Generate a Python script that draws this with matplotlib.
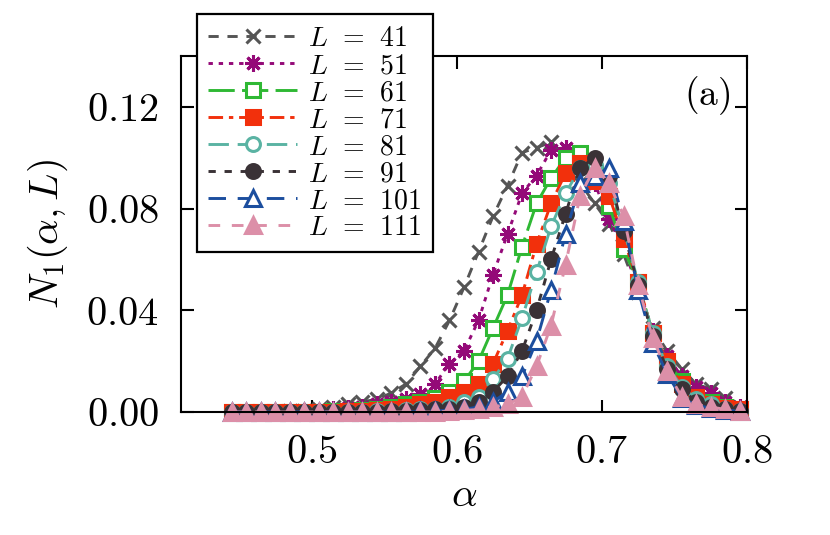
import matplotlib
matplotlib.use('Agg')
import matplotlib.pyplot as plt

plt.rcParams['mathtext.fontset'] = 'cm'
plt.rcParams['font.family'] = 'serif'
plt.rcParams['font.serif'] = ['DejaVu Serif']

# значения параметра alpha
alpha = [0.445, 0.455, 0.465, 0.475, 0.485, 0.495, 0.505, 0.515, 0.525, 0.535,
         0.545, 0.555, 0.565, 0.575, 0.585, 0.595, 0.605, 0.615, 0.625, 0.635,
         0.645, 0.655, 0.665, 0.675, 0.685, 0.695, 0.705, 0.715, 0.725, 0.735,
         0.745, 0.755, 0.765, 0.775, 0.785, 0.795]

n_L41 = [0, 0, 0, 0, 0.0003, 0.0005, 0.001, 0.002, 0.003, 0.004,
         0.005, 0.0075, 0.011, 0.018, 0.025, 0.036, 0.049, 0.063, 0.077, 0.089,
         0.102, 0.104, 0.106, 0.100, 0.090, 0.082, 0.074, 0.062, 0.047, 0.033,
         0.024, 0.017, 0.011, 0.009, 0.0055, 0.002]
n_L51 = [0, 0, 0, 0, 0, 0.0002, 0.0005, 0.001, 0.0015, 0.002,
         0.003, 0.004, 0.005, 0.007, 0.011, 0.019, 0.024, 0.036, 0.054, 0.070,
         0.086, 0.093, 0.103, 0.104, 0.098, 0.090, 0.076, 0.064, 0.049, 0.032,
         0.022, 0.014, 0.010, 0.0075, 0.004, 0.002]
n_L61 = [0, 0, 0, 0, 0, 0, 0, 0.0003, 0.0005, 0.0008,
         0.001, 0.002, 0.003, 0.004, 0.0055, 0.008, 0.012, 0.020, 0.033, 0.046,
         0.065, 0.082, 0.092, 0.100, 0.102, 0.094, 0.081, 0.064, 0.051, 0.031,
         0.020, 0.012, 0.006, 0.004, 0.002, 0.001]
n_L71 = [0, 0, 0, 0, 0, 0, 0, 0, 0.0003, 0.0005,
         0.0008, 0.001, 0.002, 0.003, 0.004, 0.006, 0.008, 0.011, 0.019, 0.032,
         0.046, 0.066, 0.082, 0.094, 0.098, 0.091, 0.085, 0.068, 0.051, 0.031,
         0.020, 0.011, 0.006, 0.003, 0.0015, 0.001]
n_L81 = [0, 0, 0, 0, 0, 0, 0, 0, 0, 0,
         0.0003, 0.0005, 0.0007, 0.001, 0.001, 0.002, 0.004, 0.006, 0.013, 0.021,
         0.037, 0.055, 0.073, 0.086, 0.096, 0.097, 0.090, 0.072, 0.051, 0.031,
         0.018, 0.010, 0.005, 0.003, 0.001, 0.0005]
n_L91 = [0, 0, 0, 0, 0, 0, 0, 0, 0, 0,
         0, 0.0003, 0.0005, 0.0007, 0.001, 0.001, 0.002, 0.004, 0.008, 0.014,
         0.024, 0.040, 0.060, 0.078, 0.096, 0.100, 0.093, 0.071, 0.050, 0.030,
         0.017, 0.009, 0.004, 0.002, 0.001, 0.0003]
n_L101 = [0, 0, 0, 0, 0, 0, 0, 0, 0, 0,
          0, 0, 0, 0.0002, 0.0004, 0.0007, 0.001, 0.002, 0.004, 0.008,
          0.014, 0.028, 0.048, 0.070, 0.090, 0.093, 0.096, 0.075, 0.048, 0.027,
          0.015, 0.0055, 0.0027, 0.0015, 0.0008, 0.0003]
n_L111 = [0, 0, 0, 0, 0, 0, 0, 0, 0, 0,
          0, 0, 0, 0, 0, 0.0003, 0.0006, 0.001, 0.002, 0.003,
          0.006, 0.018, 0.034, 0.058, 0.085, 0.096, 0.090, 0.077, 0.050, 0.029,
          0.016, 0.006, 0.003, 0.002, 0.001, 0.0003]

labels = ['41', '51', '61', '71', '81', '91', '101', '111']
series = [n_L41, n_L51, n_L61, n_L71, n_L81, n_L91, n_L101, n_L111]

# стиль каждой кривой: цвет, штрихи, маркер, размер, заливка
styles = [
    ('#555555', (0, (3.5, 3)), 'x', 10, 'full'),
    ('#940a78', (0, (1.5, 2)), (8, 2, 0), 12, 'full'),
    ('#2fb834', (0, (9, 2.5)), 's', 10, 'none'),
    ('#f2300c', (0, (5, 2, 1.5, 2)), 's', 9.5, 'full'),
    ('#5ab3a3', (0, (7, 3)), 'o', 10, 'none'),
    ('#3a3236', (0, (2.5, 3)), 'o', 10, 'full'),
    ('#1c4e9e', (0, (6, 4)), '^', 11, 'none'),
    ('#dc8fa8', (0, (4, 4)), '^', 11, 'full'),
]

fig = plt.figure(figsize=(8.3, 5.35), dpi=100)
ax = fig.add_axes([181 / 830, 1 - 412 / 535, 566 / 830, 356 / 535])

for lab, y, (c, ls, m, ms, fill) in zip(labels, series, styles):
    fc = 'white' if fill == 'none' else c
    ax.plot(alpha, y, color=c, linestyle=ls, linewidth=2.1, marker=m,
            markersize=ms, markerfacecolor=fc, markeredgecolor=c,
            markeredgewidth=2.2, clip_on=False,
            label=r'$L\;\,=\;\,%s$' % lab)

ax.set_xlim(0.41, 0.8)
ax.set_ylim(0, 0.14)
ax.set_xticks([0.5, 0.6, 0.7, 0.8])
ax.set_xticklabels([r'$0.5$', r'$0.6$', r'$0.7$', r'$0.8$'])
ax.set_yticks([0.0, 0.04, 0.08, 0.12])
ax.set_yticklabels([r'$0.00$', r'$0.04$', r'$0.08$', r'$0.12$'])
ax.tick_params(direction='in', length=9, width=1.5, labelsize=29, pad=16,
               top=True, right=True)
for s in ax.spines.values():
    s.set_linewidth(1.5)

ax.set_xlabel(r'$\alpha$', fontsize=29, labelpad=4)
ax.set_ylabel(r'$N_1(\alpha, L)$', fontsize=29, labelpad=12)

ax.text(0.97, 0.89, r'$\mathrm{(a)}$', transform=ax.transAxes, fontsize=27,
        ha='right', va='center')

leg = fig.legend(loc='upper left', bbox_to_anchor=(197 / 830, 1 - 14 / 535),
                 fontsize=20, numpoints=1, handlelength=3.2, handletextpad=0.4,
                 labelspacing=0.0, borderpad=0.4, borderaxespad=0,
                 fancybox=False, framealpha=1, edgecolor='black')
leg.get_frame().set_linewidth(1.6)

fig.savefig('out.png', dpi=100)
